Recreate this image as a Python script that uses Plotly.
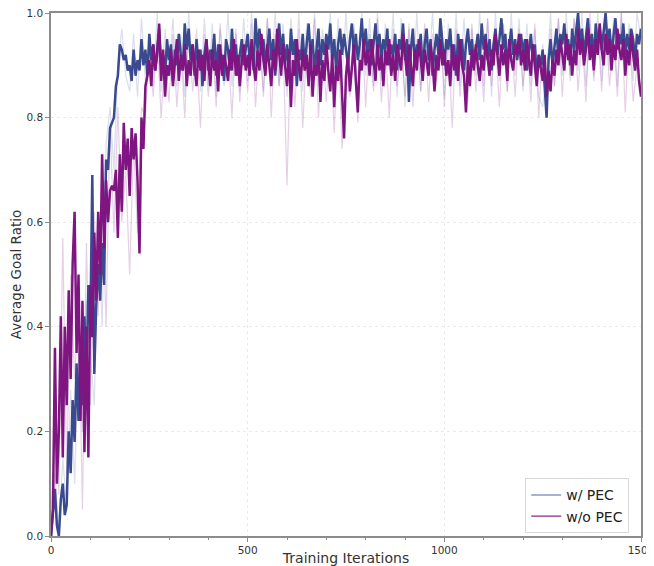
import plotly.graph_objects as go

# Main (lightly smoothed) curves, every 5 iterations
iters_main = list(range(0, 1501, 5))
w_pec = [
    0.00,0.04,0.09,0.02,0.00,0.07,0.10,0.04,0.06,0.20,
    0.12,0.26,0.18,0.33,0.22,0.38,0.25,0.42,0.30,0.48,
    0.40,0.69,0.31,0.44,0.52,0.45,0.56,0.48,0.72,0.70,
    0.78,0.79,0.80,0.86,0.88,0.94,0.93,0.91,0.92,0.89,
    0.90,0.87,0.93,0.88,0.91,0.89,0.95,0.90,0.93,0.88,
    0.96,0.91,0.94,0.89,0.93,0.97,0.90,0.92,0.88,0.95,
    0.91,0.94,0.87,0.93,0.90,0.96,0.92,0.89,0.98,0.93,
    0.97,0.91,0.94,0.88,0.95,0.90,0.93,0.86,0.92,0.95,
    0.89,0.93,0.91,0.96,0.88,0.94,0.90,0.92,0.87,0.95,
    0.93,0.89,0.97,0.91,0.94,0.88,0.92,0.95,0.90,0.93,
    0.96,0.91,0.94,0.89,0.99,0.93,0.97,0.92,0.95,0.90,
    0.93,0.97,0.91,0.95,0.88,0.94,0.98,0.92,0.96,0.90,
    0.94,0.89,0.97,0.92,0.95,0.86,0.93,0.91,0.96,0.90,
    0.94,0.98,0.92,0.95,0.89,0.93,0.97,0.90,0.95,0.92,
    0.96,0.93,0.98,0.91,0.95,0.89,0.94,0.97,0.92,0.96,
    0.93,0.90,0.95,0.98,0.92,0.96,0.91,0.94,0.99,0.93,
    0.97,0.92,0.95,0.90,0.94,0.98,0.93,0.96,0.91,0.95,
    0.93,0.97,0.90,0.94,0.92,0.96,0.89,0.95,0.93,0.98,
    0.91,0.95,0.83,0.93,0.97,0.90,0.94,0.92,0.96,0.89,
    0.94,0.97,0.91,0.95,0.88,0.93,0.96,0.92,0.99,0.94,
    0.90,0.95,0.93,0.97,0.91,0.94,0.88,0.96,0.92,0.95,
    0.89,0.94,0.97,0.92,0.95,0.90,0.93,0.96,0.91,0.98,
    0.93,0.96,0.91,0.95,0.89,0.94,0.97,0.92,0.95,0.99,
    0.93,0.96,0.90,0.94,0.97,0.92,0.95,0.91,0.94,0.96,
    0.92,0.95,0.89,0.93,0.96,0.91,0.94,0.88,0.92,0.90,
    0.93,0.86,0.80,0.91,0.95,0.90,0.93,0.97,0.92,0.96,
    0.94,0.98,0.92,0.95,0.90,0.97,0.93,0.96,1.00,0.94,
    0.97,0.92,0.95,0.99,0.93,0.96,0.91,0.98,0.94,0.97,
    0.93,0.96,1.00,0.94,0.97,0.92,0.95,0.99,0.93,0.96,
    0.94,0.98,0.92,0.96,0.93,0.97,0.95,0.91,0.96,0.94,
    0.97,
]
wo_pec = [
    0.00,0.05,0.36,0.10,0.20,0.42,0.15,0.40,0.25,0.47,
    0.30,0.52,0.62,0.35,0.50,0.22,0.45,0.16,0.40,0.15,
    0.48,0.38,0.58,0.45,0.62,0.50,0.73,0.55,0.68,0.60,
    0.66,0.67,0.66,0.70,0.57,0.73,0.62,0.79,0.70,0.76,
    0.65,0.78,0.72,0.77,0.68,0.54,0.80,0.74,0.86,0.88,
    0.91,0.86,0.94,0.89,0.92,0.98,0.87,0.93,0.84,0.90,
    0.88,0.93,0.86,0.91,0.95,0.87,0.92,0.89,0.94,0.86,
    0.91,0.88,0.94,0.90,0.86,0.93,0.89,0.92,0.87,0.95,
    0.90,0.86,0.93,0.89,0.91,0.85,0.94,0.88,0.92,0.90,
    0.87,0.93,0.89,0.95,0.88,0.92,0.86,0.91,0.94,0.89,
    0.92,0.88,0.95,0.90,0.87,0.93,0.89,0.96,0.91,0.88,
    0.94,0.90,0.86,0.93,0.89,0.97,0.92,0.88,0.94,0.90,
    0.86,0.93,0.82,0.91,0.88,0.95,0.90,0.87,0.93,0.89,
    0.92,0.86,0.94,0.84,0.90,0.88,0.93,0.83,0.91,0.87,
    0.94,0.89,0.85,0.92,0.82,0.90,0.87,0.93,0.84,0.76,
    0.88,0.92,0.85,0.90,0.94,0.87,0.81,0.91,0.89,0.95,
    0.90,0.93,0.88,0.95,0.91,0.87,0.94,0.89,0.92,0.86,
    0.93,0.90,0.95,0.88,0.92,0.87,0.94,0.91,0.89,0.96,
    0.92,0.88,0.94,0.90,0.86,0.93,0.89,0.95,0.91,0.87,
    0.93,0.90,0.88,0.94,0.91,0.85,0.92,0.89,0.95,0.90,
    0.93,0.88,0.91,0.86,0.94,0.89,0.92,0.87,0.95,0.90,
    0.88,0.81,0.91,0.86,0.93,0.89,0.94,0.90,0.87,0.92,
    0.89,0.95,0.91,0.88,0.93,0.90,0.96,0.92,0.88,0.94,
    0.90,0.93,0.87,0.95,0.91,0.89,0.94,0.92,0.96,0.90,
    0.93,0.89,0.95,0.91,0.88,0.94,0.90,0.86,0.92,0.89,
    0.87,0.92,0.84,0.89,0.85,0.91,0.88,0.93,0.90,0.95,
    0.92,0.89,0.96,0.91,0.94,0.88,0.93,0.90,0.97,0.92,
    0.95,0.90,0.93,0.97,0.91,0.94,0.89,0.95,0.92,0.98,
    0.93,0.90,0.96,0.92,0.95,0.89,0.94,0.91,0.97,0.93,
    0.91,0.95,0.88,0.93,0.90,0.96,0.92,0.89,0.93,0.87,
    0.84,
]

# Raw (faint) curves, every 10 iterations
iters_raw = list(range(0, 1501, 10))
w_pec_raw = [
    0.00,0.12,0.00,0.15,0.05,0.28,0.10,0.35,0.20,0.45,
    0.35,0.25,0.60,0.40,0.75,0.82,0.70,0.90,0.97,0.88,
    0.85,0.96,0.84,0.99,0.87,0.95,0.86,1.00,0.85,0.97,
    0.88,0.99,0.86,0.96,0.84,1.00,0.89,0.97,0.85,0.99,
    0.86,0.98,0.84,0.97,0.88,1.00,0.86,0.96,0.85,0.99,
    0.87,1.00,0.88,0.97,0.85,0.99,0.89,1.00,0.86,0.98,
    0.84,0.99,0.87,1.00,0.85,0.98,0.88,1.00,0.86,0.97,
    0.89,1.00,0.86,0.99,0.88,1.00,0.87,0.98,0.85,1.00,
    0.88,0.99,0.86,1.00,0.87,0.98,0.89,1.00,0.84,0.99,
    0.82,0.98,0.86,1.00,0.85,0.97,0.88,1.00,0.86,0.99,
    0.84,0.98,0.87,1.00,0.86,0.99,0.85,0.97,0.88,1.00,
    0.86,0.99,0.84,1.00,0.87,0.98,0.85,1.00,0.88,0.99,
    0.85,0.98,0.86,0.97,0.84,0.82,0.88,1.00,0.86,0.99,
    0.88,1.00,0.87,0.99,0.89,1.00,0.86,0.98,0.88,1.00,
    0.87,1.00,0.89,0.99,0.86,1.00,0.88,0.98,0.87,1.00,
    0.95,
]
wo_pec_raw = [
    0.00,0.30,0.08,0.57,0.12,0.50,0.30,0.45,0.05,0.56,
    0.25,0.62,0.42,0.68,0.40,0.79,0.58,0.82,0.60,0.70,
    0.50,0.75,0.58,0.82,0.80,0.93,0.84,0.96,0.80,0.92,
    0.83,0.96,0.82,0.94,0.80,0.97,0.85,0.93,0.78,0.96,
    0.84,0.95,0.82,0.98,0.86,0.94,0.80,0.97,0.83,0.95,
    0.85,0.98,0.82,0.95,0.84,0.99,0.80,0.96,0.86,0.94,
    0.67,0.95,0.82,0.97,0.78,0.94,0.84,0.99,0.80,0.93,
    0.83,0.96,0.77,0.95,0.74,0.90,0.84,0.97,0.79,0.98,
    0.82,0.96,0.85,0.99,0.83,0.95,0.80,0.97,0.86,0.94,
    0.84,0.97,0.82,0.95,0.85,0.98,0.83,0.96,0.87,0.99,
    0.82,0.95,0.78,0.97,0.84,0.94,0.83,0.98,0.85,0.96,
    0.83,0.99,0.86,0.95,0.82,0.98,0.85,0.96,0.84,0.97,
    0.86,0.95,0.83,0.98,0.80,0.94,0.82,0.97,0.86,0.99,
    0.84,0.97,0.88,0.99,0.85,0.96,0.83,1.00,0.87,0.97,
    0.85,0.98,0.86,0.96,0.84,1.00,0.81,0.97,0.83,0.90,
    0.86,
]

series_names = ["w/ PEC", "w/o PEC"]
x_ticks = [0, 500, 1000, 1500]
y_ticks = [0.0, 0.2, 0.4, 0.6, 0.8, 1.0]

BLUE = "#3a4a8f"
PURPLE = "#7f1580"
BLUE_FAINT = "rgba(58,74,143,0.18)"
PURPLE_FAINT = "rgba(127,21,128,0.2)"

fig = go.Figure()
fig.add_trace(go.Scatter(x=iters_raw, y=w_pec_raw, mode="lines",
                         line=dict(color=BLUE_FAINT, width=1.2), showlegend=False, hoverinfo="skip"))
fig.add_trace(go.Scatter(x=iters_raw, y=wo_pec_raw, mode="lines",
                         line=dict(color=PURPLE_FAINT, width=1.2), showlegend=False, hoverinfo="skip"))
fig.add_trace(go.Scatter(x=iters_main, y=w_pec, mode="lines",
                         line=dict(color=BLUE, width=2.5), showlegend=False))
fig.add_trace(go.Scatter(x=iters_main, y=wo_pec, mode="lines",
                         line=dict(color=PURPLE, width=2.5), showlegend=False))
# legend entries (thin lines, as in the reference)
fig.add_trace(go.Scatter(x=[None], y=[None], mode="lines", name=series_names[0],
                         line=dict(color="#5565a5", width=1.2)))
fig.add_trace(go.Scatter(x=[None], y=[None], mode="lines", name=series_names[1],
                         line=dict(color="#8a2a8a", width=1.2)))

axis_common = dict(
    showline=True, linecolor="#8c8c8c", linewidth=1.5, mirror=True,
    showgrid=True, gridcolor="#ebebeb", griddash="dot", gridwidth=1,
    ticks="outside", ticklen=4, tickcolor="#8c8c8c", tickwidth=1,
    zeroline=False, automargin=False, ticklabeloverflow="allow",
    tickfont=dict(family="DejaVu Sans", size=10.5, color="#333333"),
)

# The page places the figure 8px in from the top-left corner, so the figure is
# sized to end exactly at the 654x566 window edge.
fig.update_layout(
    width=646, height=558,
    margin=dict(l=43, r=13, t=5, b=30),
    paper_bgcolor="white", plot_bgcolor="white",
    xaxis=dict(range=[0, 1500], tickvals=x_ticks, ticktext=[str(v) for v in x_ticks],
               title=dict(text="Training Iterations", standoff=2,
                          font=dict(family="DejaVu Sans", size=14, color="#333333")),
               minor=dict(dtick=100, tick0=0, ticks="outside", ticklen=2.5, tickcolor="#8c8c8c", showgrid=False),
               **axis_common),
    yaxis=dict(range=[0, 1], tickvals=y_ticks, ticktext=[f"{v:.1f}" for v in y_ticks],
               title=dict(text="Average Goal Ratio", standoff=4,
                          font=dict(family="DejaVu Sans", size=13.5, color="#333333")),
               **axis_common),
    legend=dict(x=0.98, y=0.005, xanchor="right", yanchor="bottom",
                bgcolor="rgba(255,255,255,0.9)", bordercolor="#d8d8d8", borderwidth=1,
                font=dict(family="DejaVu Sans", size=14, color="#222222"),
                tracegroupgap=0, itemwidth=30),
)

fig.write_html("out.html")
